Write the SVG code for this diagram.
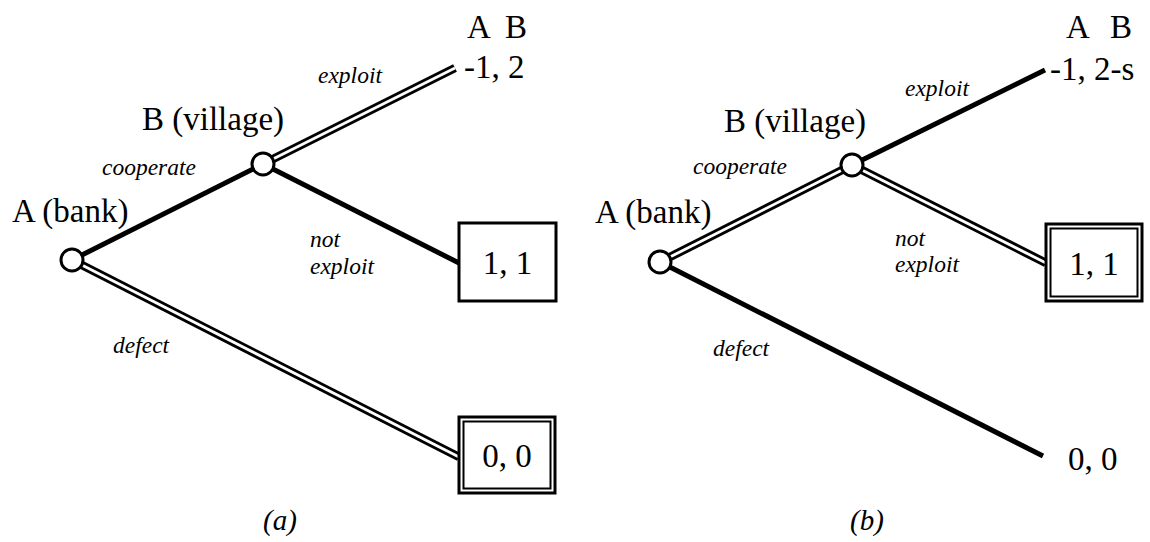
<svg xmlns="http://www.w3.org/2000/svg" width="1150" height="542" viewBox="0 0 1150 542">
<defs>
<style>
text{font-family:"Liberation Serif","Times New Roman",Times,serif;fill:#000}
.t{font-size:33px}
.i{font-style:italic;font-size:23.5px}
.cap{font-style:italic;font-size:29px}
.thick{stroke:#000;stroke-width:5;fill:none}
.dblo{stroke:#000;stroke-width:8.5;fill:none}
.dbli{stroke:#fff;stroke-width:2.8;fill:none}
.node{fill:#fff;stroke:#000;stroke-width:3}
.box{fill:#fff;stroke:#000;stroke-width:3}
.box2{fill:none;stroke:#000;stroke-width:2}
</style>
</defs>
<rect width="1150" height="542" fill="#fff"/>
<g id="connectors">
<line class="thick" x1="72" y1="260" x2="263" y2="164"/>
<line class="dblo" x1="263" y1="164" x2="455" y2="68"/>
<line class="dbli" x1="263" y1="164" x2="455" y2="68"/>
<line class="thick" x1="263" y1="164" x2="459" y2="263"/>
<line class="dblo" x1="72" y1="260" x2="459" y2="457"/>
<line class="dbli" x1="72" y1="260" x2="459" y2="457"/>
<line class="dblo" x1="660" y1="262" x2="852" y2="165"/>
<line class="dbli" x1="660" y1="262" x2="852" y2="165"/>
<line class="thick" x1="852" y1="165" x2="1045" y2="70"/>
<line class="dblo" x1="852" y1="165" x2="1046" y2="263"/>
<line class="dbli" x1="852" y1="165" x2="1046" y2="263"/>
<line class="thick" x1="660" y1="262" x2="1043" y2="456"/>
</g>
<g id="labels">
<text class="i" x="318" y="83">exploit</text>
<text class="i" x="102" y="175">cooperate</text>
<text class="i" x="310" y="247">not</text>
<text class="i" x="310" y="274">exploit</text>
<text class="i" x="113" y="353">defect</text>
<text class="i" x="905" y="96">exploit</text>
<text class="i" x="693" y="174">cooperate</text>
<text class="i" x="895" y="246">not</text>
<text class="i" x="895" y="272">exploit</text>
<text class="i" x="713" y="356">defect</text>
<text class="cap" x="263" y="530">(a)</text>
<text class="cap" x="850" y="530">(b)</text>
</g>
<g id="a-A">
<circle class="node" cx="72" cy="260" r="11"/>
<text class="t" x="12" y="222">A (bank)</text>
</g>
<g id="a-B">
<circle class="node" cx="263" cy="164" r="11"/>
<text class="t" x="142" y="130">B (village)</text>
</g>
<g id="a-header">
<text class="t" x="467" y="38">A</text>
<text class="t" x="505" y="38">B</text>
</g>
<g id="a-exploit">
<text class="t" x="464" y="78">-1, 2</text>
</g>
<g id="a-notexploit">
<rect class="box" x="459" y="223" width="97" height="78"/>
<text class="t" x="507.5" y="274" text-anchor="middle">1, 1</text>
</g>
<g id="a-defect">
<rect class="box" x="459" y="417" width="96" height="76"/>
<rect class="box2" x="463.5" y="421.5" width="87" height="67"/>
<text class="t" x="507" y="467" text-anchor="middle">0, 0</text>
</g>
<g id="b-A">
<circle class="node" cx="660" cy="262" r="11"/>
<text class="t" x="595" y="223">A (bank)</text>
</g>
<g id="b-B">
<circle class="node" cx="852" cy="165" r="11"/>
<text class="t" x="724" y="132">B (village)</text>
</g>
<g id="b-header">
<text class="t" x="1066" y="38">A</text>
<text class="t" x="1110" y="38">B</text>
</g>
<g id="b-exploit">
<text class="t" x="1050" y="80">-1, 2-s</text>
</g>
<g id="b-notexploit">
<rect class="box" x="1046" y="224" width="96" height="77"/>
<rect class="box2" x="1050.5" y="228.5" width="87" height="68"/>
<text class="t" x="1094" y="275" text-anchor="middle">1, 1</text>
</g>
<g id="b-defect">
<text class="t" x="1068" y="470">0, 0</text>
</g>
</svg>
